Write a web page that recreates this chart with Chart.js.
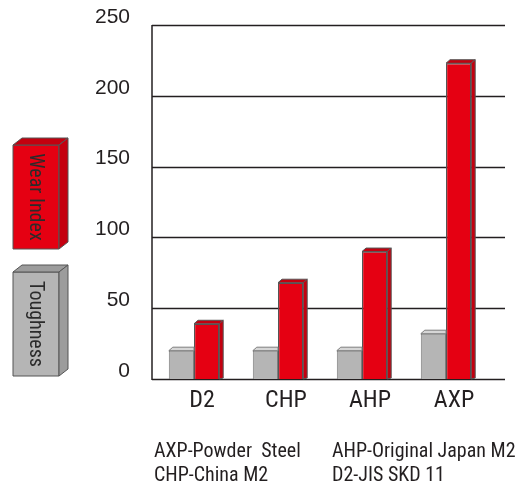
<!DOCTYPE html>
<html><head><meta charset="utf-8">
<script src="https://cdn.jsdelivr.net/npm/chart.js@4"></script>
<style>html,body{margin:0;padding:0;background:#fff;} canvas{display:block;}</style>
</head><body>
<canvas id="c" width="530" height="482"></canvas>
<script>
const categories = ['D2', 'CHP', 'AHP', 'AXP'];
const toughness = [20, 20, 20, 32];
const wearIndex = [39, 68, 90, 223];
const yTicks = [0, 50, 100, 150, 200, 250];
const notesLeft = ['AXP-Powder  Steel', 'CHP-China M2'];
const notesRight = ['AHP-Original Japan M2', 'D2-JIS SKD 11'];

const NARROW = '"Roboto Condensed", "DejaVu Sans Condensed", "Liberation Sans Narrow", sans-serif';
const INK = '#231f20';

const gridPlugin = {
  id: 'gridExt',
  beforeDatasetsDraw(chart) {
    const {ctx, chartArea, scales} = chart;
    const ys = scales.y;
    ctx.save();
    ctx.strokeStyle = INK;
    ctx.lineWidth = 1.3;
    ys.ticks.forEach(t => {
      const y = Math.round(ys.getPixelForValue(t.value)) + 0.5;
      ctx.beginPath();
      ctx.moveTo(chartArea.left, y);
      ctx.lineTo(chartArea.right + 17, y);
      ctx.stroke();
    });
    ctx.lineWidth = 1.5;
    ctx.beginPath();
    ctx.moveTo(chartArea.left, ys.getPixelForValue(250));
    ctx.lineTo(chartArea.left, ys.getPixelForValue(0) + 1);
    ctx.stroke();
    ctx.restore();
  }
};

const bar3dPlugin = {
  id: 'bar3d',
  afterDatasetsDraw(chart) {
    const ctx = chart.ctx;
    const d = 4, dy = 3.5;
    chart.data.datasets.forEach((ds, di) => {
      const meta = chart.getDatasetMeta(di);
      meta.data.forEach(bar => {
        const p = bar.getProps(['x', 'y', 'base', 'width'], true);
        const l = p.x - p.width / 2, r = p.x + p.width / 2;
        ctx.save();
        ctx.strokeStyle = ds.borderColor;
        ctx.lineWidth = 1;
        ctx.lineJoin = 'round';
        ctx.fillStyle = ds.topColor;
        ctx.beginPath();
        ctx.moveTo(l, p.y);
        ctx.lineTo(l + d, p.y - dy);
        ctx.lineTo(ds.drawSide ? r + d : r, p.y - dy);
        ctx.lineTo(r, p.y);
        ctx.closePath();
        ctx.fill();
        ctx.stroke();
        if (ds.drawSide) {
          ctx.fillStyle = ds.sideColor;
          ctx.beginPath();
          ctx.moveTo(r, p.y);
          ctx.lineTo(r + d, p.y - dy);
          ctx.lineTo(r + d, p.base - 1);
          ctx.lineTo(r, p.base);
          ctx.closePath();
          ctx.fill();
          ctx.stroke();
        }
        ctx.restore();
      });
    });
  }
};

function fitText(ctx, text, x, y, maxW) {
  const w = ctx.measureText(text).width;
  if (w > maxW) {
    ctx.save();
    ctx.translate(x, y);
    ctx.scale(maxW / w, 1);
    ctx.fillText(text, 0, 0);
    ctx.restore();
  } else {
    ctx.fillText(text, x, y);
  }
}

function drawBox(ctx, x, y, w, h, front, dark, label, textLen) {
  const d = 9, dy = 7;
  ctx.save();
  ctx.strokeStyle = '#555';
  ctx.lineWidth = 1;
  ctx.lineJoin = 'round';
  ctx.fillStyle = front;
  ctx.fillRect(x, y, w, h);
  ctx.strokeRect(x, y, w, h);
  ctx.fillStyle = dark;
  ctx.beginPath();
  ctx.moveTo(x, y); ctx.lineTo(x + d, y - dy); ctx.lineTo(x + w + d, y - dy); ctx.lineTo(x + w, y); ctx.closePath();
  ctx.fill(); ctx.stroke();
  ctx.beginPath();
  ctx.moveTo(x + w, y); ctx.lineTo(x + w + d, y - dy); ctx.lineTo(x + w + d, y + h - dy); ctx.lineTo(x + w, y + h); ctx.closePath();
  ctx.fill(); ctx.stroke();
  ctx.translate(x + w / 2, y + h / 2);
  ctx.rotate(Math.PI / 2);
  ctx.fillStyle = '#2b2b2b';
  ctx.font = '20px ' + NARROW;
  ctx.textAlign = 'left';
  ctx.textBaseline = 'middle';
  const tw = Math.min(ctx.measureText(label).width, textLen);
  fitText(ctx, label, -tw / 2, 1, textLen);
  ctx.restore();
}

const extrasPlugin = {
  id: 'extras',
  afterDraw(chart) {
    const ctx = chart.ctx;
    const dsT = chart.data.datasets[0], dsW = chart.data.datasets[1];
    drawBox(ctx, 13, 145, 46, 104, dsW.backgroundColor, dsW.sideColor, dsW.label, 93);
    drawBox(ctx, 13, 272, 46, 104, dsT.backgroundColor, '#9c9c9c', dsT.label, 88);
    ctx.save();
    ctx.fillStyle = INK;
    ctx.font = '20px ' + NARROW;
    ctx.textBaseline = 'alphabetic';
    ctx.textAlign = 'left';
    const leftW = [166, 124], rightW = [191, 127];
    notesLeft.forEach((t, i) => fitText(ctx, t, 154, 457 + i * 24, leftW[i]));
    notesRight.forEach((t, i) => fitText(ctx, t, 332, 457 + i * 24, rightW[i]));
    ctx.restore();
  }
};

new Chart(document.getElementById('c'), {
  type: 'bar',
  data: {
    labels: categories,
    datasets: [
      {
        label: 'Toughness', data: toughness,
        backgroundColor: '#b5b5b5', borderColor: '#7d7d7d', borderWidth: 1,
        topColor: '#d6d6d6', sideColor: '#9c9c9c', drawSide: false
      },
      {
        label: 'Wear Index', data: wearIndex,
        backgroundColor: '#e50012', borderColor: '#555555', borderWidth: 1.2,
        topColor: '#c4000f', sideColor: '#c4000f', drawSide: true
      }
    ]
  },
  options: {
    responsive: false,
    animation: false,
    layout: { padding: { top: 25, right: 42, left: 0, bottom: 0 } },
    plugins: { legend: { display: false }, tooltip: { enabled: false } },
    datasets: { bar: { categoryPercentage: 0.6, barPercentage: 1.0 } },
    scales: {
      x: {
        grid: { display: false, drawTicks: false },
        border: { display: false },
        ticks: { color: INK, font: { family: NARROW, size: 24 }, padding: 8, labelOffset: 8 },
        afterFit(s) { s.height = 103; }
      },
      y: {
        min: 0, max: 250,
        grid: { display: false, drawTicks: false },
        border: { display: false },
        afterBuildTicks(s) { s.ticks = yTicks.map(v => ({ value: v })); },
        ticks: { color: INK, font: { family: '"Liberation Sans", Arial, sans-serif', size: 21 }, padding: 22, labelOffset: -8 },
        afterFit(s) { s.width = 152; s.paddingTop = 0; s.paddingBottom = 0; }
      }
    }
  },
  plugins: [gridPlugin, bar3dPlugin, extrasPlugin]
});
</script>
</body></html>
